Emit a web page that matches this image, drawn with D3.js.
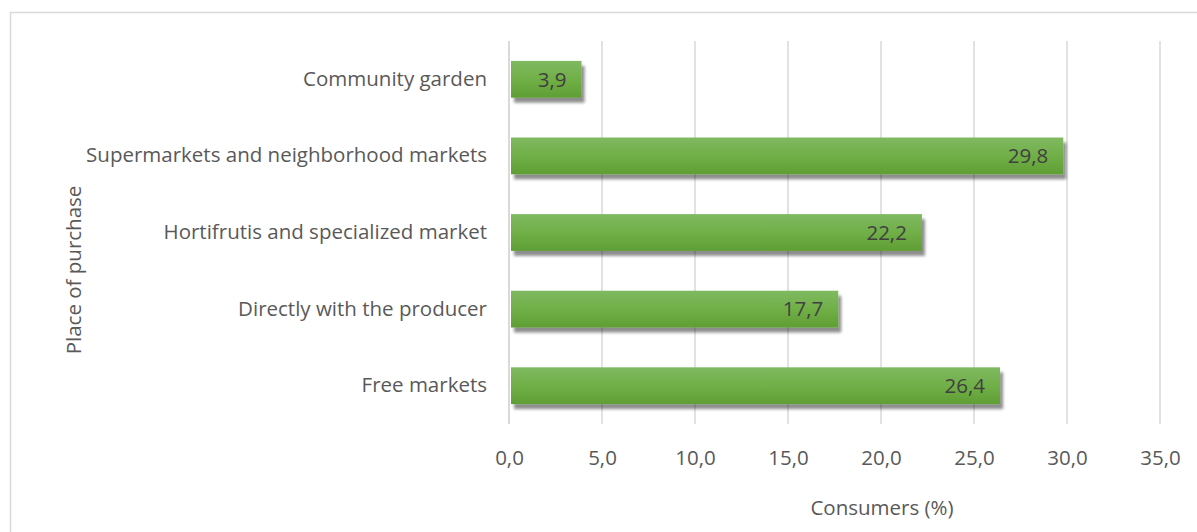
<!DOCTYPE html>
<html>
<head>
<meta charset="utf-8">
<script src="https://cdn.jsdelivr.net/npm/d3@7"></script>
<style>
  body { margin: 0; background: #fff; }
  text { font-family: "Open Sans", "Liberation Sans", sans-serif; fill: #595959; }
</style>
</head>
<body>
<script>
var categories = ["Community garden", "Supermarkets and neighborhood markets",
    "Hortifrutis and specialized market ", "Directly with the producer", "Free markets"];
var values = [3.9, 29.8, 22.2, 17.7, 26.4];
var xTicks = [0, 5, 10, 15, 20, 25, 30, 35];

var svgWidth = 1197;
var svgHeight = 532;
var fontSize = "20.5px";
var margin = {
    top: 41,
    right: 37,
    bottom: 108,
    left: 509
};

var svg = d3.select("body")
        .append("svg")
        .attr("width", svgWidth)
        .attr("height", svgHeight);

// chart frame (right/bottom edges fall outside the picture)
svg.append("rect")
        .attr("x", 10.5)
        .attr("y", 12.5)
        .attr("width", 1200)
        .attr("height", 540)
        .attr("fill", "#fff")
        .attr("stroke", "#d9d9d9")
        .attr("stroke-width", 1.5);

var defs = svg.append("defs");
var grad = defs.append("linearGradient")
        .attr("id", "barGrad")
        .attr("x1", 0).attr("y1", 0).attr("x2", 0).attr("y2", 1);
grad.append("stop").attr("offset", "0%").attr("stop-color", "#7fb961");
grad.append("stop").attr("offset", "55%").attr("stop-color", "#6fae45");
grad.append("stop").attr("offset", "100%").attr("stop-color", "#5f9e34");

var shadow = defs.append("filter")
        .attr("id", "shadow")
        .attr("x", "-5%").attr("y", "-30%")
        .attr("width", "115%").attr("height", "180%");
shadow.append("feGaussianBlur").attr("in", "SourceAlpha").attr("stdDeviation", 1.6);
shadow.append("feOffset").attr("dx", 3).attr("dy", 5).attr("result", "off");
shadow.append("feComponentTransfer").append("feFuncA").attr("type", "linear").attr("slope", 0.45);
var merge = shadow.append("feMerge");
merge.append("feMergeNode");
merge.append("feMergeNode").attr("in", "SourceGraphic");

var xScale = d3.scaleLinear()
        .domain([0, 35])
        .range([margin.left, svgWidth - margin.right]);

var yScale = d3.scaleBand()
        .domain(categories)
        .range([margin.top, svgHeight - margin.bottom])
        .paddingInner(0.52)
        .paddingOuter(0.26);

var fmt = function (d) {
    return d3.format(".1f")(d).replace(".", ",");
};

// vertical gridlines
svg.append("g")
        .selectAll("line")
        .data(xTicks)
        .enter()
        .append("line")
        .attr("x1", function (d) { return xScale(d); })
        .attr("x2", function (d) { return xScale(d); })
        .attr("y1", margin.top)
        .attr("y2", svgHeight - margin.bottom)
        .attr("stroke", "#d9d9d9")
        .attr("stroke-width", function (d) { return d === 0 ? 2 : 1.5; });

var xAxis = d3.axisBottom()
        .scale(xScale)
        .tickValues(xTicks)
        .tickSize(0)
        .tickPadding(26)
        .tickFormat(fmt);

svg.append("g")
        .attr("class", "x axis")
        .attr("transform", "translate(0," + (svgHeight - margin.bottom) + ")")
        .call(xAxis)
        .call(function (g) { g.select(".domain").remove(); })
        .selectAll("text")
        .style("font-size", fontSize)
        .style("font-family", "'Open Sans', sans-serif")
        .attr("fill", "#595959");

var yAxis = d3.axisLeft()
        .scale(yScale)
        .tickSize(0)
        .tickPadding(22);

svg.append("g")
        .attr("class", "y axis")
        .attr("transform", "translate(" + margin.left + ",0)")
        .call(yAxis)
        .call(function (g) { g.select(".domain").remove(); })
        .selectAll("text")
        .style("font-size", fontSize)
        .style("font-family", "'Open Sans', sans-serif")
        .attr("fill", "#595959");

var bars = svg.append("g")
        .selectAll("g")
        .data(values)
        .enter()
        .append("g");

bars.append("rect")
        .attr("x", xScale(0) + 2)
        .attr("y", function (d, i) { return yScale(categories[i]); })
        .attr("width", function (d) { return xScale(d) - xScale(0) - 2; })
        .attr("height", yScale.bandwidth())
        .attr("fill", "url(#barGrad)")
        .attr("filter", "url(#shadow)");

bars.append("text")
        .attr("x", function (d) { return xScale(d) - 15; })
        .attr("y", function (d, i) { return yScale(categories[i]) + yScale.bandwidth() / 2; })
        .attr("dy", "0.36em")
        .attr("text-anchor", "end")
        .style("font-size", fontSize)
        .style("fill", "#404040")
        .text(function (d) { return fmt(d); });

svg.append("text")
        .attr("x", 882)
        .attr("y", 515)
        .attr("text-anchor", "middle")
        .style("font-size", fontSize)
        .text("Consumers (%)");

svg.append("text")
        .attr("transform", "translate(81," + 270 + ") rotate(-90)")
        .attr("text-anchor", "middle")
        .style("font-size", fontSize)
        .text("Place of purchase");
</script>
</body>
</html>
